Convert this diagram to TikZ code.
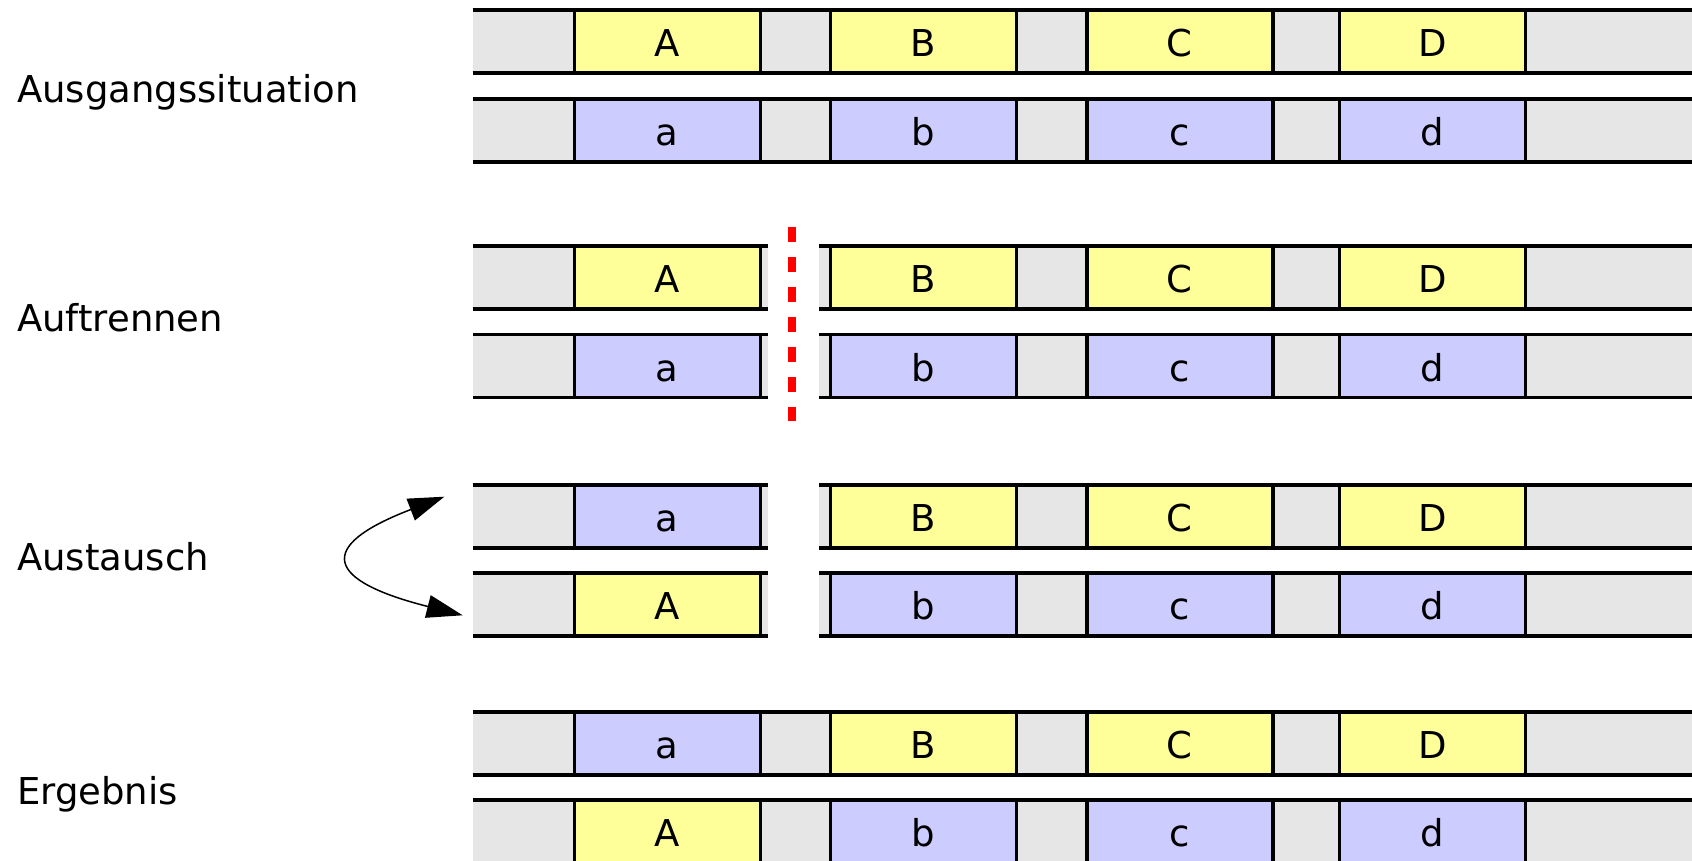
\documentclass[tikz,border=0pt]{standalone}
\usepackage{fontspec}
\setmainfont{DejaVu Sans}
\usetikzlibrary{arrows.meta}
\definecolor{boxyellow}{HTML}{FFFF99}
\definecolor{boxblue}{HTML}{CCCCFF}
\definecolor{stripgray}{HTML}{E6E6E6}
\definecolor{cutred}{HTML}{FF0000}
\newcommand\drawstrip[3]{%
  \fill[stripgray] (#2,#1) rectangle (#3,#1+63);
  \draw[stripline] (#2,#1) -- (#3,#1);
  \draw[stripline] (#2,#1+63) -- (#3,#1+63);
}
\begin{document}
\begin{tikzpicture}[x=1pt,y=-1pt,
  stripline/.style={line width=3.3pt},
  chrom/.style={draw, line width=3.3pt, minimum width=186pt, minimum height=63pt,
    inner sep=0pt, text height=30pt, text depth=0pt, font=\fontsize{37}{45}\selectfont},
  yel/.style={chrom, fill=boxyellow},
  blu/.style={chrom, fill=boxblue},
  lbl/.style={anchor=base west, inner sep=0pt, font=\fontsize{37}{45}\selectfont},
  cutline/.style={draw=cutred, line width=8pt, dash pattern=on 15pt off 15pt},
  swaparrow/.style={line width=1.5pt, {Triangle[length=36pt,width=23pt]}-{Triangle[length=36pt,width=23pt]}}
]
\useasboundingbox (0,0) rectangle (1692,861);

% strips
\drawstrip{10}{472.7}{1700}
\drawstrip{99}{472.7}{1700}
\drawstrip{246}{472.7}{767.5}
\drawstrip{246}{819}{1700}
\drawstrip{334.5}{472.7}{767.5}
\drawstrip{334.5}{819}{1700}
\drawstrip{485}{472.7}{767.5}
\drawstrip{485}{819}{1700}
\drawstrip{573}{472.7}{767.5}
\drawstrip{573}{819}{1700}
\drawstrip{712}{472.7}{1700}
\drawstrip{800}{472.7}{1700}

% group 1: Ausgangssituation
\foreach \x/\t/\s/\n in {667.25/A/yel/1, 923.25/B/yel/2, 1179.85/C/yel/3, 1432.65/D/yel/4}
  \node[\s] (g1t\n) at (\x,41.5) {\t};
\foreach \x/\t/\s/\n in {667.25/a/blu/1, 923.25/b/blu/2, 1179.85/c/blu/3, 1432.65/d/blu/4}
  \node[\s] (g1b\n) at (\x,130.5) {\t};

% group 2: Auftrennen
\foreach \x/\t/\s/\n in {667.25/A/yel/1, 923.25/B/yel/2, 1179.85/C/yel/3, 1432.65/D/yel/4}
  \node[\s] (g2t\n) at (\x,277.5) {\t};
\foreach \x/\t/\s/\n in {667.25/a/blu/1, 923.25/b/blu/2, 1179.85/c/blu/3, 1432.65/d/blu/4}
  \node[\s] (g2b\n) at (\x,366) {\t};

% group 3: Austausch
\foreach \x/\t/\s/\n in {667.25/a/blu/1, 923.25/B/yel/2, 1179.85/C/yel/3, 1432.65/D/yel/4}
  \node[\s] (g3t\n) at (\x,516.5) {\t};
\foreach \x/\t/\s/\n in {667.25/A/yel/1, 923.25/b/blu/2, 1179.85/c/blu/3, 1432.65/d/blu/4}
  \node[\s] (g3b\n) at (\x,604.5) {\t};

% group 4: Ergebnis
\foreach \x/\t/\s/\n in {667.25/a/blu/1, 923.25/B/yel/2, 1179.85/C/yel/3, 1432.65/D/yel/4}
  \node[\s] (g4t\n) at (\x,743.5) {\t};
\foreach \x/\t/\s/\n in {667.25/A/yel/1, 923.25/b/blu/2, 1179.85/c/blu/3, 1432.65/d/blu/4}
  \node[\s] (g4b\n) at (\x,831.5) {\t};

% labels
\node[lbl] (lab1) at (17,102.5) {Ausgangssituation};
\node[lbl] (lab2) at (17,331.5) {Auftrennen};
\node[lbl] (lab3) at (17,570.5) {Austausch};
\node[lbl] (lab4) at (17,804) {Ergebnis};

% cut line
\coordinate (cutTop) at (792,226.7);
\coordinate (cutBot) at (792,420.7);
\draw[cutline] (cutTop) -- (cutBot);

% swap arrow
\coordinate (swapTop) at (444.3,496.7);
\coordinate (swapBot) at (462.7,615.3);
\draw[swaparrow] (swapTop) .. controls (313,547) and (327,581) .. (swapBot);
\end{tikzpicture}
\end{document}
